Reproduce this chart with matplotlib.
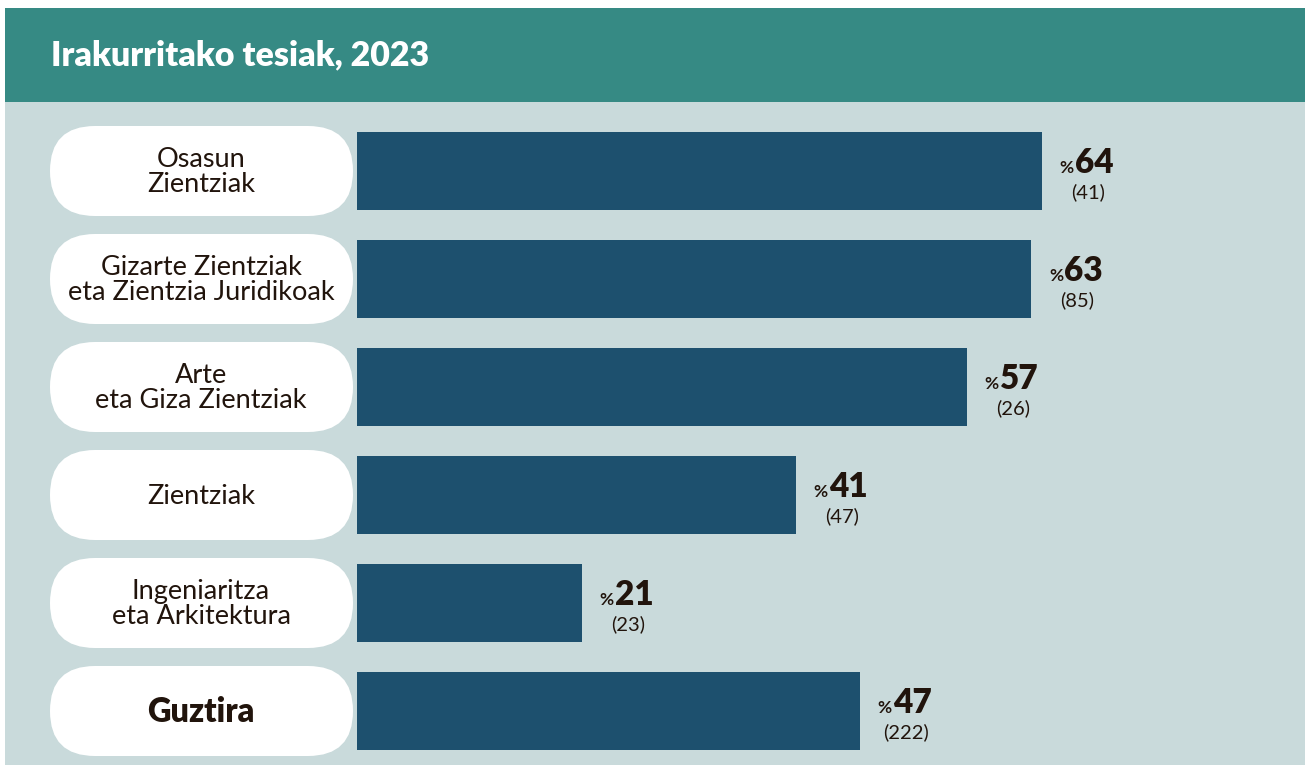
import matplotlib.pyplot as plt
from matplotlib.patches import Rectangle, FancyBboxPatch

W, H = 1309, 769

# datuak
kategoriak = ['Osasun\nZientziak',
              'Gizarte Zientziak\neta Zientzia Juridikoak',
              'Arte\neta Giza Zientziak',
              'Zientziak',
              'Ingeniaritza\neta Arkitektura',
              'Guztira']
ehunekoak = [64, 63, 57, 41, 21, 47]
kopuruak = [41, 85, 26, 47, 23, 222]
izenburua = 'Irakurritako tesiak, 2023'

goiburu_kolorea = '#368a84'
atzeko_kolorea = '#c9dadb'
barra_kolorea = '#1d506e'
testu_kolorea = '#21140c'

plt.rcParams['font.family'] = ['Lato', 'DejaVu Sans']

fig = plt.figure(figsize=(W / 100, H / 100), dpi=100)
fig.patch.set_facecolor('white')

# atzealdea pixeletan
bg = fig.add_axes([0, 0, 1, 1])
bg.set_xlim(0, W)
bg.set_ylim(H, 0)
bg.axis('off')
bg.add_patch(Rectangle((5, 8), 1300, 94, color=goiburu_kolorea, lw=0))
bg.add_patch(Rectangle((5, 102), 1300, 663, color=atzeko_kolorea, lw=0))
bg.text(51, 55, izenburua, color='white', fontsize=24.5, fontweight='heavy',
        va='center', ha='left')

# barrak
top, bottom = 102, 765
left, right = 357, 1305
pitch = 108
c0 = 171
ax = fig.add_axes([left / W, (H - bottom) / H, (right - left) / W, (bottom - top) / H])
ax.patch.set_alpha(0)
ax.set_xlim(0, (right - left) / 10.7)
ax.set_ylim((bottom - c0) / pitch, -(c0 - top) / pitch)
ax.axis('off')

y = list(range(len(kategoriak)))
ax.barh(y, ehunekoak, height=78 / pitch, color=barra_kolorea, left=0)

for i, (kat, p, n) in enumerate(zip(kategoriak, ehunekoak, kopuruak)):
    cy = c0 + pitch * i
    bg.add_patch(FancyBboxPatch((50, cy - 45), 303, 90,
                                boxstyle='round,pad=0,rounding_size=45',
                                fc='white', ec='none'))
    if kat == 'Guztira':
        bg.text(201, cy + 1, kat, ha='center', va='center', fontsize=23.5,
                fontweight='heavy', color=testu_kolorea)
    else:
        bg.text(201, cy + 1, kat, ha='center', va='center', fontsize=19.5,
                color=testu_kolorea, linespacing=1.02)
    ax.annotate('%', (p, i), xytext=(32, -2), textcoords='offset pixels',
                ha='right', va='baseline', fontsize=12.5, fontweight='bold',
                color=testu_kolorea)
    ax.annotate(str(p), (p, i), xytext=(33, -2), textcoords='offset pixels',
                ha='left', va='baseline', fontsize=24, fontweight='heavy',
                color=testu_kolorea)
    ax.annotate('(%d)' % n, (p, i), xytext=(46, -21), textcoords='offset pixels',
                ha='center', va='center', fontsize=14.5, color=testu_kolorea)

fig.savefig('out.png', dpi=100, facecolor=fig.get_facecolor())
